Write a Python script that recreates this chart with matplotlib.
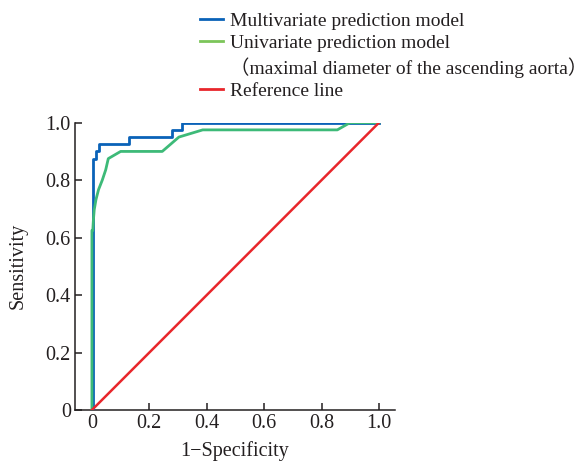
import matplotlib
matplotlib.use('Agg')
import matplotlib.pyplot as plt
from matplotlib.lines import Line2D

# ROC curves
multi_fpr = [0, 0.003, 0.003, 0.013, 0.013, 0.025, 0.025, 0.13, 0.13, 0.28, 0.28, 0.315, 0.315, 1.0]
multi_tpr = [0, 0, 0.875, 0.875, 0.9, 0.9, 0.925, 0.925, 0.95, 0.95, 0.975, 0.975, 1.0, 1.0]

uni_fpr = [0, 0, 0.003, 0.005, 0.008, 0.014, 0.023, 0.036, 0.048, 0.057, 0.10, 0.245, 0.303, 0.386, 0.855, 0.899, 1.0]
uni_tpr = [0, 0.625, 0.625, 0.66, 0.697, 0.732, 0.767, 0.80, 0.836, 0.875, 0.9, 0.9, 0.95, 0.975, 0.975, 1.0, 1.0]

ref_x = [0, 1]
ref_y = [0, 1]

labels = ['Multivariate prediction model',
          'Univariate prediction model',
          '\uff08maximal diameter of the ascending aorta\uff09',
          'Reference line']
ticks = [0, 0.2, 0.4, 0.6, 0.8, 1.0]
tick_labels = ['0', '0.2', '0.4', '0.6', '0.8', '1.0']

plt.rcParams['font.family'] = ['Liberation Serif', 'Noto Sans CJK SC']
plt.rcParams['text.color'] = '#231f20'
plt.rcParams['axes.labelcolor'] = '#231f20'
plt.rcParams['xtick.color'] = '#231f20'
plt.rcParams['ytick.color'] = '#231f20'

fig = plt.figure(figsize=(5.88, 4.61), dpi=100)
ax = fig.add_axes([75/588, 1 - 410/461, 320/588, (410 - 122.7)/461])

ax.plot(multi_fpr, multi_tpr, color='#0a62b8', lw=2.0, zorder=3)
ax.plot(uni_fpr, uni_tpr, color='#3dba78', lw=2.0, zorder=4)
ax.plot(ref_x, ref_y, color='#e8262b', lw=1.8, zorder=5)

ax.set_xlim(-0.059, 1.056)
ax.set_ylim(0, 1.0)
ax.set_xticks(ticks)
ax.set_xticklabels(tick_labels)
ax.set_yticks(ticks)
ax.set_yticklabels(tick_labels)
ax.tick_params(direction='in', length=5, width=1.1, labelsize=14.5, pad=3)
for s in ['top', 'right']:
    ax.spines[s].set_visible(False)
for s in ['left', 'bottom']:
    ax.spines[s].set_linewidth(1.1)
    ax.spines[s].set_color('#231f20')

ax.set_xlabel('1\u2212Specificity', fontsize=14.5, labelpad=6)
ax.set_ylabel('Sensitivity', fontsize=14.5, labelpad=13)

handles = [Line2D([], [], color='#0a62b8', lw=2.0),
           Line2D([], [], color='#7cc55a', lw=2.0),
           Line2D([], [], color='none'),
           Line2D([], [], color='#e8262b', lw=2.0)]
fig.legend(handles, labels, loc='upper left', bbox_to_anchor=(200/588, 1 - 12/461),
           frameon=False, fontsize=14, handlelength=1.2, handletextpad=0.35,
           labelspacing=0.25, borderpad=0, borderaxespad=0)

fig.savefig('out.png', dpi=100)
